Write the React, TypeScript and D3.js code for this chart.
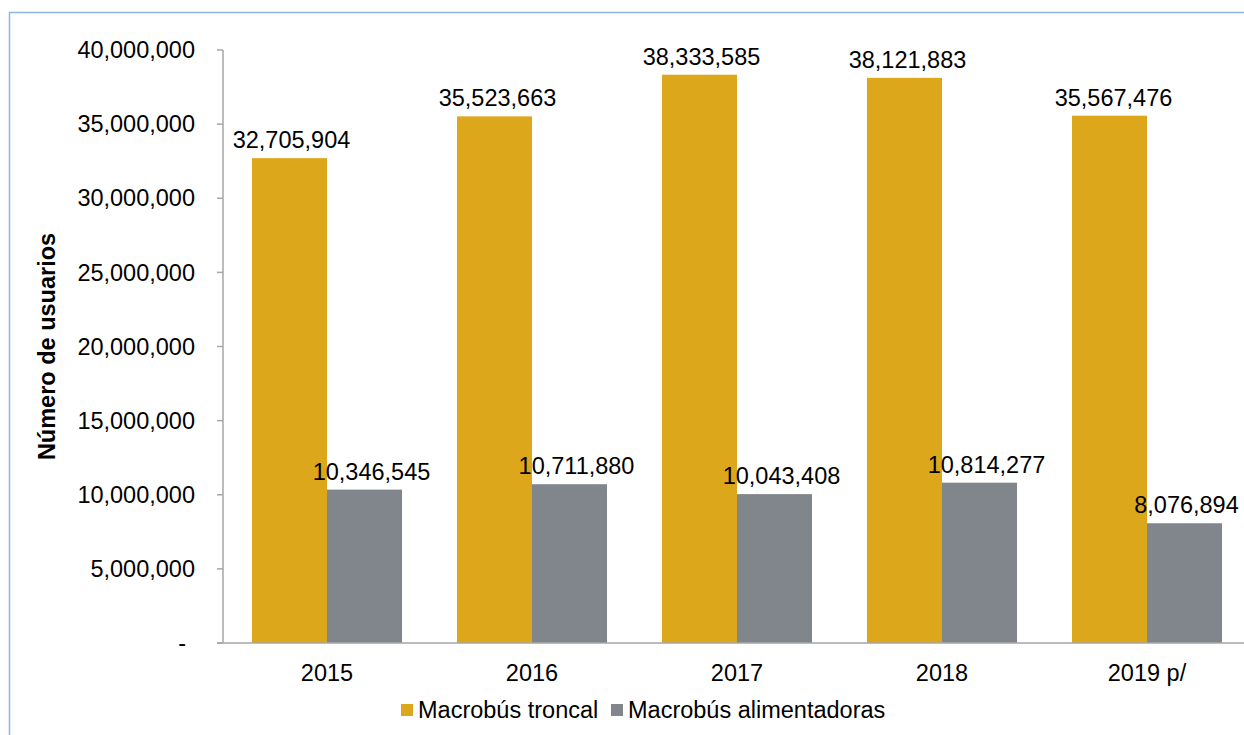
import * as d3 from 'd3';
import React from 'react';

const years = ['2015', '2016', '2017', '2018', '2019 p/'];
const troncal = [32705904, 35523663, 38333585, 38121883, 35567476];
const alimentadoras = [10346545, 10711880, 10043408, 10814277, 8076894];
const seriesNames = ['Macrobús troncal', 'Macrobús alimentadoras'];
const yTicks = [0, 5000000, 10000000, 15000000, 20000000, 25000000, 30000000, 35000000, 40000000];

const colors = ['#DCA71B', '#80868C'];
const font = 'Arial, "Liberation Sans", sans-serif';

const App: React.FC = () => {
  const width = 1244;
  const height = 735;
  const margin = { top: 50, left: 223, right: -4, bottom: 92 };
  const plotW = width - margin.left - margin.right;
  const plotH = height - margin.top - margin.bottom;

  const x = d3.scaleBand<string>().domain(years).range([1.5, plotW + 1.5]);
  const y = d3.scaleLinear().domain([0, 40000000]).range([plotH, 0]);
  const fmt = d3.format(',');

  const barW = 75;
  const series = [troncal, alimentadoras];
  // small horizontal nudges of the data labels, as placed in the source
  const labelDx = [[2, 3, 2, 3, 4], [7, 7, 7, 7, 2]];

  return (
    <svg
      width={width}
      height={height}
      style={{ position: 'absolute', left: 0, top: 0, background: '#fff' }}
      fontFamily={font}
    >
      <rect x={9.5} y={12.5} width={1300} height={800} fill="#fff" stroke="#8DB4E2" strokeWidth={1.5} />
      <g transform={`translate(${margin.left},${margin.top})`}>
        {/* bars */}
        {years.map((yr, i) => {
          const cx = (x(yr) ?? 0) + x.bandwidth() / 2;
          return series.map((vals, s) => {
            const bx = s === 0 ? cx - barW : cx;
            return (
              <rect
                key={`${yr}-${s}`}
                x={bx}
                y={y(vals[i])}
                width={barW}
                height={plotH - y(vals[i])}
                fill={colors[s]}
              />
            );
          });
        })}
        {/* data labels */}
        {years.map((yr, i) => {
          const cx = (x(yr) ?? 0) + x.bandwidth() / 2;
          return series.map((vals, s) => {
            const bx = s === 0 ? cx - barW / 2 : cx + barW / 2;
            return (
              <text
                key={`l-${yr}-${s}`}
                x={bx + labelDx[s][i]}
                y={y(vals[i]) - 10}
                textAnchor="middle"
                fontSize={23.5}
                fill="#000"
              >
                {fmt(vals[i])}
              </text>
            );
          });
        })}
        {/* y axis */}
        <line x1={0} x2={0} y1={0} y2={plotH} stroke="#A6A6A6" strokeWidth={1.5} />
        {yTicks.map((t) => (
          <g key={t} transform={`translate(0,${y(t)})`}>
            <line x1={-6} x2={0} stroke="#A6A6A6" strokeWidth={1.5} />
            <text
              x={t === 0 ? -37 : -28}
              dy="0.35em"
              textAnchor="end"
              fontSize={23.5}
              fill="#000"
            >
              {t === 0 ? '-' : fmt(t)}
            </text>
          </g>
        ))}
        {/* x axis */}
        <line x1={-6} x2={plotW} y1={plotH} y2={plotH} stroke="#A6A6A6" strokeWidth={1.5} />
        {years.map((yr) => (
          <text
            key={`x-${yr}`}
            x={(x(yr) ?? 0) + x.bandwidth() / 2}
            y={plotH + 38}
            textAnchor="middle"
            fontSize={23.5}
            fill="#000"
          >
            {yr}
          </text>
        ))}
      </g>
      {/* y axis title */}
      <text
        transform={`translate(55,${margin.top + plotH / 2}) rotate(-90)`}
        textAnchor="middle"
        fontSize={23.5}
        fontWeight="bold"
        fill="#000"
      >
        Número de usuarios
      </text>
      {/* legend */}
      <g transform="translate(401,710)">
        <rect x={0} y={-6} width={12} height={12} fill={colors[0]} />
        <text x={17} dy="0.35em" fontSize={23.5} fill="#000">{seriesNames[0]}</text>
        <rect x={210} y={-6} width={12} height={12} fill={colors[1]} />
        <text x={227} dy="0.35em" fontSize={23.5} fill="#000">{seriesNames[1]}</text>
      </g>
    </svg>
  );
};

export default App;
